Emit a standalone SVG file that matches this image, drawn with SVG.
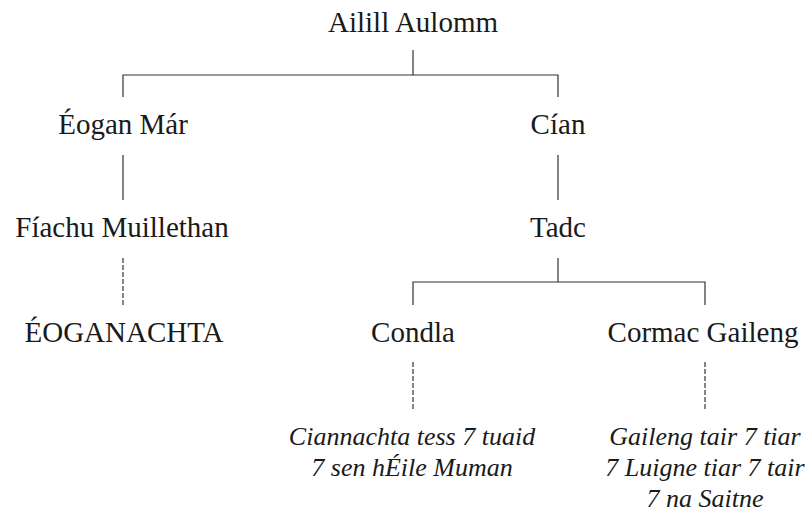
<svg xmlns="http://www.w3.org/2000/svg" width="811" height="527" viewBox="0 0 811 527">
  <style>
    .lbl { font-size: 29px; fill: #1a1a1a; text-anchor: middle; }
    .it { font-style: italic; font-size: 26px; }
    .ln { stroke: #333; stroke-width: 1.2; fill: none; }
    .ds { stroke-dasharray: 5 2; }
  </style>
  <rect width="811" height="527" fill="#fff"/>
  <g id="connectors">
    <path class="ln" d="M413 50 V75 M123 97 V75 H558 V97"/>
    <path class="ln" d="M123 155 V200 M558 155 V200"/>
    <path class="ln ds" d="M123 258 V305"/>
    <path class="ln" d="M558 258 V282 M413 305 V282 H705 V305"/>
    <path class="ln ds" d="M413 362 V410 M705 362 V410"/>
  </g>
  <g class="lbl" font-family="Liberation Serif, DejaVu Serif, serif">
    <g id="ailill"><text x="413" y="32">Ailill Aulomm</text></g>
    <g id="eogan"><text x="123" y="134">Éogan Már</text></g>
    <g id="cian"><text x="558" y="134">Cían</text></g>
    <g id="fiachu"><text x="122" y="237">Fíachu Muillethan</text></g>
    <g id="tadc"><text x="558" y="237">Tadc</text></g>
    <g id="eoganachta"><text x="124" y="342">ÉOGANACHTA</text></g>
    <g id="condla"><text x="413" y="342">Condla</text></g>
    <g id="cormac"><text x="703" y="342">Cormac Gaileng</text></g>
    <g id="ciannachta">
      <text class="it" x="412" y="445">Ciannachta tess 7 tuaid</text>
      <text class="it" x="412" y="476">7 sen hÉile Muman</text>
    </g>
    <g id="gaileng">
      <text class="it" x="705" y="445">Gaileng tair 7 tiar</text>
      <text class="it" x="705" y="476">7 Luigne tiar 7 tair</text>
      <text class="it" x="705" y="507">7 na Saitne</text>
    </g>
  </g>
</svg>
